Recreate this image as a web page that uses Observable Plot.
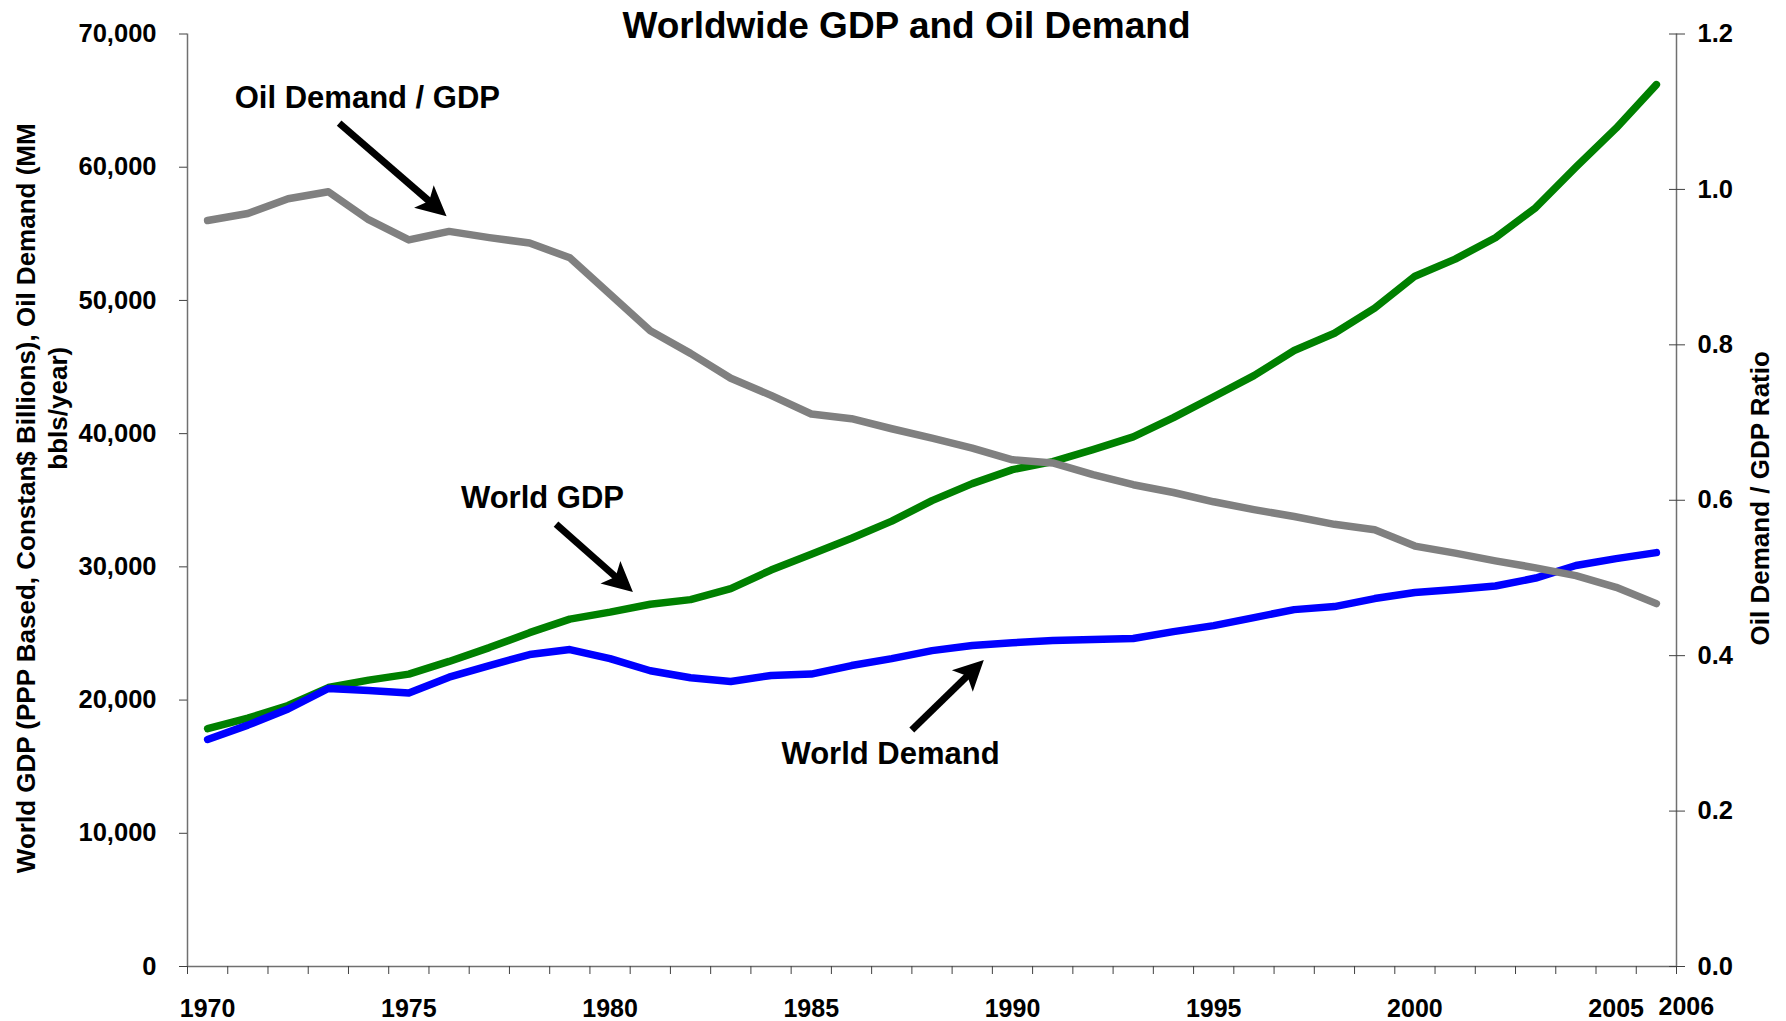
<!DOCTYPE html>
<html>
<head>
<meta charset="utf-8">
<script src="https://cdn.jsdelivr.net/npm/d3@7"></script>
<script src="https://cdn.jsdelivr.net/npm/@observablehq/plot@0.6"></script>
<style>
  html, body { margin: 0; padding: 0; background: #ffffff; overflow: hidden; }
  #chart svg { display: block; }
</style>
</head>
<body>
<div id="chart"></div>
<script>
// ---- Data ----
const years = [1970, 1971, 1972, 1973, 1974, 1975, 1976, 1977, 1978, 1979,
               1980, 1981, 1982, 1983, 1984, 1985, 1986, 1987, 1988, 1989,
               1990, 1991, 1992, 1993, 1994, 1995, 1996, 1997, 1998, 1999,
               2000, 2001, 2002, 2003, 2004, 2005, 2006];

// World GDP (PPP based, constant $ billions)
const worldGDP = [17860, 18640, 19590, 20940, 21500, 21950, 22900, 23940, 25060, 26080,
                  26600, 27190, 27540, 28370, 29760, 30950, 32150, 33430, 34970, 36250,
                  37300, 37900, 38800, 39760, 41200, 42770, 44360, 46240, 47540, 49420,
                  51820, 53100, 54710, 56960, 60000, 62930, 66200];

// World oil demand (MM bbls/year)
const worldDemand = [17040, 18120, 19330, 20870, 20710, 20530, 21720, 22590, 23420, 23790,
                     23110, 22200, 21680, 21400, 21850, 21950, 22590, 23110, 23710, 24100,
                     24300, 24470, 24540, 24620, 25140, 25590, 26190, 26790, 27020, 27620,
                     28070, 28300, 28560, 29160, 30100, 30620, 31070];

// Oil demand / GDP ratio (right axis)
const demandGdpRatio = [0.960, 0.969, 0.988, 0.997, 0.961, 0.935, 0.946, 0.938, 0.931, 0.912,
                        0.865, 0.818, 0.789, 0.757, 0.735, 0.711, 0.705, 0.692, 0.680, 0.667,
                        0.652, 0.648, 0.633, 0.620, 0.610, 0.598, 0.588, 0.579, 0.569, 0.562,
                        0.541, 0.532, 0.522, 0.513, 0.503, 0.488, 0.467];

const leftTicks = [0, 10000, 20000, 30000, 40000, 50000, 60000, 70000];
const rightTicks = [0, 0.2, 0.4, 0.6, 0.8, 1.0, 1.2];
const xLabelYears = [1970, 1975, 1980, 1985, 1990, 1995, 2000, 2005];
const xLastLabel = [2006];

const titleText = "Worldwide GDP and Oil Demand";
const leftTitle1 = "World GDP (PPP Based, Constan$ Billions), Oil Demand (MM";
const leftTitle2 = "bbls/year)";
const rightTitle = "Oil Demand / GDP Ratio";

// Annotations (data units: year, left-axis value)
const labels = [
  {text: "Oil Demand / GDP", x: 1973.97, y: 65220},
  {text: "World GDP",        x: 1978.32, y: 35200},
  {text: "World Demand",     x: 1986.97, y: 15910}
];
const arrows = [
  {x1: 1973.28, y1: 63270, x2: 1975.95, y2: 56290},
  {x1: 1978.67, y1: 33170, x2: 1980.58, y2: 28070},
  {x1: 1987.51, y1: 17710, x2: 1989.30, y2: 22970}
];

// ---- Derived table ----
const Y_MAX = 70000, R_MAX = 1.2;
const rToY = r => r * Y_MAX / R_MAX;
const table = years.map((year, i) => ({year, gdp: worldGDP[i], demand: worldDemand[i], ratio: demandGdpRatio[i]}));
const xDomain = [years[0] - 0.5, years[years.length - 1] + 0.5];
const boundaries = years.map(y => y - 0.5).concat([xDomain[1]]);

const FONT = "'Liberation Sans', Arial, Helvetica, sans-serif";

// custom arrow mark with filled (stealth) head
function arrowMark(data) {
  return function (...args) {
    const scales = args.find(a => a && typeof a.x === "function" && typeof a.y === "function");
    const g = d3.create("svg:g");
    for (const a of data) {
      const x1 = scales.x(a.x1), y1 = scales.y(a.y1), x2 = scales.x(a.x2), y2 = scales.y(a.y2);
      const dx = x2 - x1, dy = y2 - y1, len = Math.hypot(dx, dy);
      const ux = dx / len, uy = dy / len, nx = -uy, ny = ux;
      const L = 30, W = 15, notch = 7;
      const bx = x2 - (L - notch) * ux, by = y2 - (L - notch) * uy;
      g.append("line")
        .attr("x1", x1).attr("y1", y1).attr("x2", bx + ux).attr("y2", by + uy)
        .attr("stroke", "#000").attr("stroke-width", 7);
      const pts = [
        [x2, y2],
        [x2 - L * ux + W * nx, y2 - L * uy + W * ny],
        [bx, by],
        [x2 - L * ux - W * nx, y2 - L * uy - W * ny]
      ];
      g.append("path").attr("d", "M" + pts.map(p => p.join(",")).join("L") + "Z").attr("fill", "#000");
    }
    return g.node();
  };
}

const chart = Plot.plot({
  width: 1786,
  height: 1021,
  marginLeft: 187,
  marginRight: 110,
  marginTop: 33.5,
  marginBottom: 55,
  style: {fontFamily: FONT, fontWeight: "bold", fontSize: "25px", background: "#ffffff", color: "#000"},
  x: {type: "linear", domain: xDomain},
  y: {type: "linear", domain: [0, Y_MAX]},
  marks: [
    // axis lines
    Plot.ruleY([0], {stroke: "#707070", strokeWidth: 1.5}),
    Plot.ruleX([xDomain[0], xDomain[1]], {stroke: "#707070", strokeWidth: 1.5}),
    // left axis
    Plot.axisY({anchor: "left", ticks: leftTicks, tickSize: 8, tickPadding: 23, stroke: "#404040",
                tickFormat: d3.format(","), fontSize: 25.5, fontWeight: "bold"}),
    // right axis (ticks cross the line)
    Plot.axisY({anchor: "right", ticks: rightTicks.map(rToY), tickSize: 8, tickPadding: 13, stroke: "#404040",
                tickFormat: d => (d / Y_MAX * R_MAX).toFixed(1), fontSize: 25.5, fontWeight: "bold"}),
    Plot.axisY({anchor: "right", ticks: rightTicks.map(rToY), tickSize: 8, dx: -8, fill: "none", stroke: "#404040"}),
    // x axis ticks at category boundaries
    Plot.axisX({anchor: "bottom", ticks: boundaries, tickSize: 8, fill: "none", stroke: "#404040"}),
    // x labels
    Plot.axisX({anchor: "bottom", ticks: xLabelYears, tickSize: 0, tickPadding: 33,
                tickFormat: d => String(d), fontSize: 25, fontWeight: "bold"}),
    Plot.axisX({anchor: "bottom", ticks: xLastLabel, tickSize: 0, tickPadding: 31, dx: 30,
                tickFormat: d => String(d), fontSize: 25, fontWeight: "bold"}),
    // series
    Plot.line(table, {x: "year", y: "gdp", stroke: "#008000", strokeWidth: 7.5, strokeLinejoin: "round", strokeLinecap: "round"}),
    Plot.line(table, {x: "year", y: "demand", stroke: "#0000ff", strokeWidth: 7.5, strokeLinejoin: "round", strokeLinecap: "round"}),
    Plot.line(table, {x: "year", y: d => rToY(d.ratio), stroke: "#808080", strokeWidth: 7.5, strokeLinejoin: "round", strokeLinecap: "round"}),
    // annotations
    arrowMark(arrows),
    Plot.text(labels, {x: "x", y: "y", text: "text", fontSize: 31, fontWeight: "bold", fill: "#000", lineAnchor: "middle"}),
    // title
    Plot.text([titleText], {frameAnchor: "top", textAnchor: "middle", dx: -25.5, dy: -7.5, lineAnchor: "middle", fontSize: 37, fontWeight: "bold", fill: "#000"}),
    // axis titles
    Plot.text([leftTitle1], {frameAnchor: "left", textAnchor: "middle", dx: -161, dy: -2, rotate: -90, lineAnchor: "middle", fontSize: 26, fontWeight: "bold", fill: "#000"}),
    Plot.text([leftTitle2], {frameAnchor: "left", textAnchor: "middle", dx: -129, dy: -92, rotate: -90, lineAnchor: "middle", fontSize: 26, fontWeight: "bold", fill: "#000"}),
    Plot.text([rightTitle], {frameAnchor: "right", textAnchor: "middle", dx: 84, dy: -2, rotate: -90, lineAnchor: "middle", fontSize: 26, fontWeight: "bold", fill: "#000"})
  ]
});

document.getElementById("chart").appendChild(chart);
</script>
</body>
</html>
